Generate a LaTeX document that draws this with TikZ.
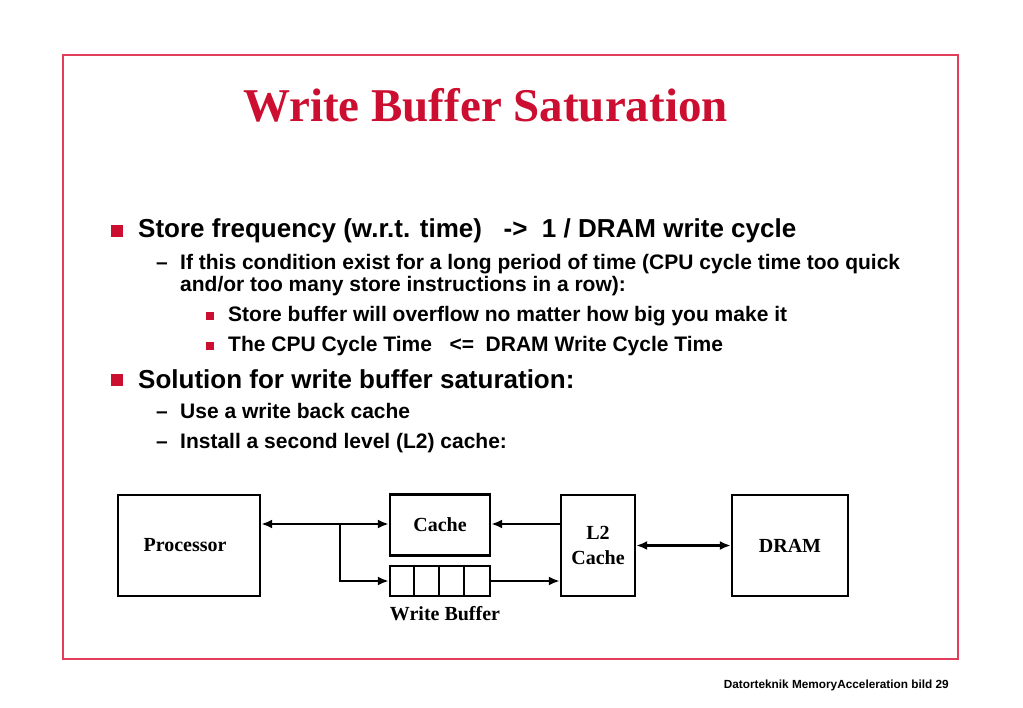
\documentclass[tikz,border=0pt]{standalone}
\usepackage{fontspec}
\setmainfont{Liberation Serif}
\setsansfont{Liberation Sans}
\usepackage{tikz}
\usetikzlibrary{shapes,arrows,arrows.meta,positioning}
\definecolor{rahmen}{RGB}{226,62,92}
\definecolor{titelrot}{RGB}{204,14,48}
\tikzstyle{rubrik} = [text=titelrot, font=\fontsize{47}{47}\selectfont\bfseries, anchor=base]
\tikzstyle{punkt} = [fill=titelrot, draw=none, minimum size=12pt, inner sep=0pt]
\tikzstyle{kpunkt} = [fill=titelrot, draw=none, minimum size=8pt, inner sep=0pt]
\tikzstyle{ebene} = [font=\sffamily\bfseries\fontsize{26}{26}\selectfont, anchor=base west, inner sep=0pt]
\tikzstyle{unter} = [font=\sffamily\bfseries\fontsize{21}{22}\selectfont, anchor=base west, inner sep=0pt]
\tikzstyle{block} = [draw, line width=2.4pt, rectangle, font=\fontsize{20}{25}\selectfont\bfseries, align=center, inner sep=0pt]
\tikzstyle{pfeil} = [line width=2.4pt, -{Latex[length=11pt,width=9pt]}]
\tikzstyle{dpfeil} = [line width=2.4pt, {Latex[length=11pt,width=9pt]}-{Latex[length=11pt,width=9pt]}]
\begin{document}
\begin{tikzpicture}[x=1pt,y=-1pt]
\useasboundingbox[fill=white] (0,0) rectangle (1023,708);
\draw[rahmen, line width=1.2pt] (63,55) rectangle (958,659);
\node[rubrik] (titel) at (485.5,122) {Write Buffer Saturation};

% Text
\node[punkt] (b1) at (117,231) {};
\node[ebene] (t1) at (138,237.5) {Store frequency (w.r.t. time)\ \ \ ->\ \ 1 / DRAM write cycle};
\node[unter] (d1) at (156,270) {--};
\node[unter] (t11) at (180,270) {If this condition exist for a long period of time (CPU cycle time too quick};
\node[unter] (t12) at (180,292) {and/or too many store instructions in a row):};
\node[kpunkt] (b11) at (210,316) {};
\node[unter] (t111) at (228,322) {Store buffer will overflow no matter how big you make it};
\node[kpunkt] (b12) at (210,346) {};
\node[unter] (t112) at (228,352) {The CPU Cycle Time\ \ \ <=\ \ DRAM Write Cycle Time};
\node[punkt] (b2) at (117,380) {};
\node[ebene] (t2) at (138,388.5) {Solution for write buffer saturation:};
\node[unter] (d2) at (156,419) {--};
\node[unter] (t21) at (180,419) {Use a write back cache};
\node[unter] (d3) at (156,449) {--};
\node[unter] (t22) at (180,449) {Install a second level (L2) cache:};

% Diagramm
\node[block, minimum width=142pt, minimum height=101pt] (proc) at (189,545.5) {Processor\hspace*{8pt}};
\node[block, minimum width=100pt, minimum height=61pt] (cache) at (440,525) {Cache};
\node[block, minimum width=100pt, minimum height=30pt] (buf) at (440,581) {};
\foreach \i in {1,2,3}
  \draw[line width=2.4pt] ([xshift=\i*25pt]buf.north west) -- ([xshift=\i*25pt]buf.south west);
\node[font=\fontsize{20}{20}\selectfont\bfseries, below=6pt of buf, xshift=5pt] (buflabel) {Write Buffer};
\node[block, minimum width=74pt, minimum height=101pt] (l2) at (598,545.5) {\rule{0pt}{8pt}L2\\Cache};
\node[block, minimum width=116pt, minimum height=101pt] (dram) at (790,545.5) {DRAM};
\coordinate (ast) at (340,524);
\draw[dpfeil] (proc.east |- ast) -- (cache.west |- ast);
\draw[pfeil] (ast) |- (buf.west);
\draw[pfeil] (l2.west |- ast) -- (cache.east |- ast);
\draw[pfeil] (buf.east) -- (l2.west |- buf.east);
\draw[dpfeil] (l2.east) -- (dram.west);

\node[font=\sffamily\bfseries\fontsize{11.8}{12}\selectfont, anchor=base east, inner sep=0pt] (fuss) at (949,688) {Datorteknik MemoryAcceleration bild 29};
\end{tikzpicture}
\end{document}
